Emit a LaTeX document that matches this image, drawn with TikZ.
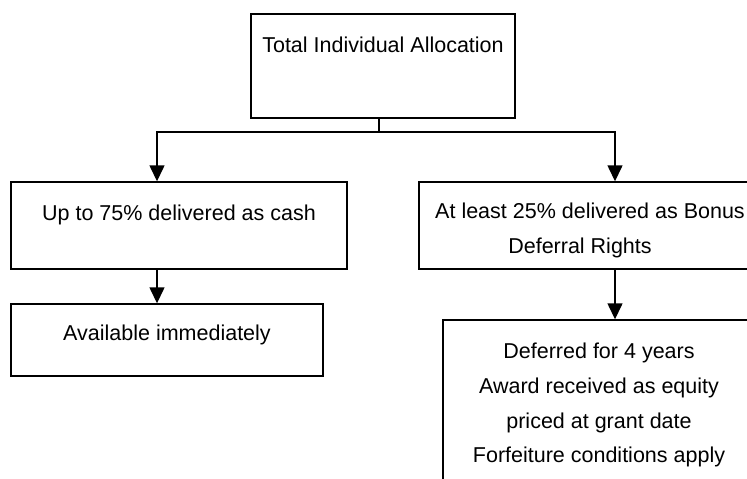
\documentclass[tikz,border=0pt]{standalone}
\usepackage{fontspec}
\setmainfont{Liberation Sans}
\usetikzlibrary{arrows.meta}
\begin{document}
\begin{tikzpicture}[x=1pt,y=-1pt,
  box/.style={draw, line width=1.4pt, rectangle, inner sep=0pt},
  txt/.style={font=\fontsize{21.5}{35}\selectfont, inner sep=0pt, text height=15.5pt, text depth=4.5pt},
  arr/.style={line width=1.4pt, -{Triangle[width=15pt,length=16pt]}},
  ln/.style={line width=1.4pt}]
\clip (0,0) rectangle (747,479);
\fill[white] (0,0) rectangle (747,479);
% boxes
\node[box, minimum width=264pt, minimum height=104pt] (top) at (383,66) {};
\node[box, minimum width=336pt, minimum height=87pt] (l1) at (179,225.5) {};
\node[box, minimum width=312pt, minimum height=72pt] (l2) at (167,340) {};
\node[box, minimum width=342pt, minimum height=87pt] (r1) at (590,225.5) {};
\node[box, minimum width=312pt, minimum height=200pt] (r2) at (599,420) {};
% texts
\node[txt] (ttop) at (383,47) {Total Individual Allocation};
\node[txt] (tl1) at (179,215) {Up to 75\% delivered as cash};
\node[txt] (tl2) at (167,335) {Available immediately};
\node[txt] (tr1a) at (590,213) {At least 25\% delivered as Bonus};
\node[txt] (tr1b) at (580,248) {Deferral Rights};
\node[txt] (tr2a) at (599,353) {Deferred for 4 years};
\node[txt] (tr2b) at (599,388) {Award received as equity};
\node[txt] (tr2c) at (599,423) {priced at grant date};
\node[txt] (tr2d) at (599,457) {Forfeiture conditions apply};
% connectors
\coordinate (split) at (379,132);
\coordinate (lc) at (157,132);
\coordinate (rc) at (615,132);
\draw[ln] (top.south -| split) -- (split);
\draw[arr] (split) -- (lc) -- (l1.north -| lc);
\draw[arr] (split) -- (rc) -- (r1.north -| rc);
\draw[arr] (l1.south -| lc) -- (l2.north -| lc);
\draw[arr] (r1.south -| rc) -- (r2.north -| rc);
\end{tikzpicture}
\end{document}
